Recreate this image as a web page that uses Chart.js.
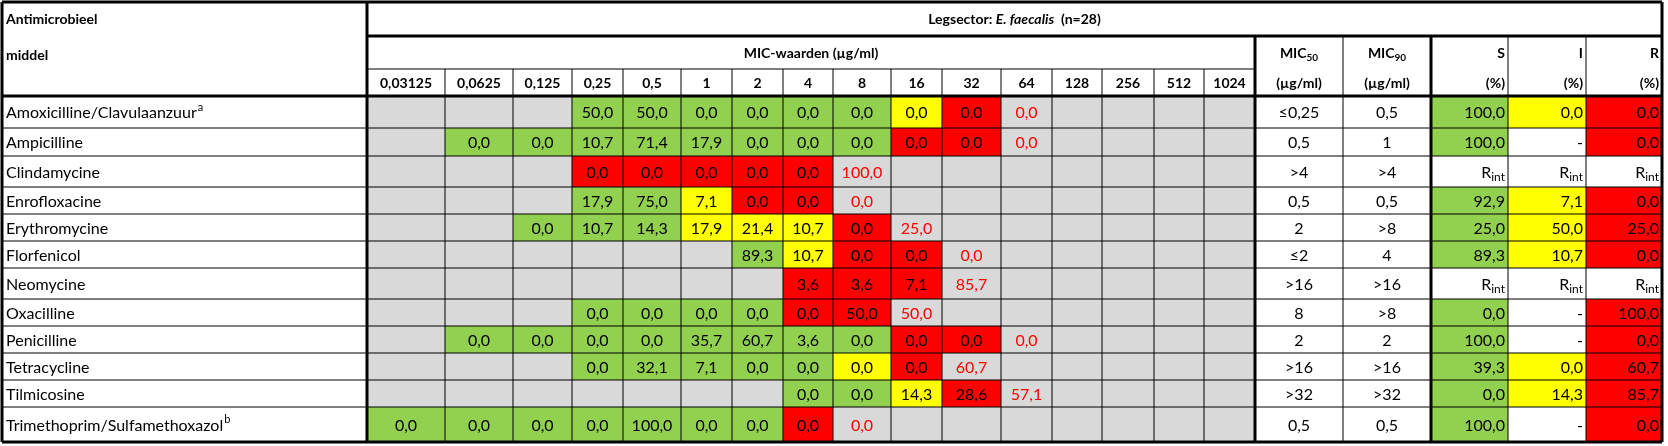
<!DOCTYPE html>
<html><head><meta charset="utf-8">
<script src="https://cdn.jsdelivr.net/npm/chart.js@4/dist/chart.umd.min.js"></script>
<style>html,body{margin:0;padding:0;background:#fff}#w{width:1668px;height:446px}</style>
</head><body><div id="w"><canvas id="c"></canvas></div>
<script>
// ---- data ----
const agents = ["Amoxicilline/Clavulaanzuur","Ampicilline","Clindamycine","Enrofloxacine","Erythromycine","Florfenicol","Neomycine","Oxacilline","Penicilline","Tetracycline","Tilmicosine","Trimethoprim/Sulfamethoxazol"];
const agentSup = ["a","","","","","","","","","","","b"];
const micLabels = ["0,03125","0,0625","0,125","0,25","0,5","1","2","4","8","16","32","64","128","256","512","1024"];
const micValues = [
 [null,null,null,"50,0","50,0","0,0","0,0","0,0","0,0","0,0","0,0","0,0",null,null,null,null],
 [null,"0,0","0,0","10,7","71,4","17,9","0,0","0,0","0,0","0,0","0,0","0,0",null,null,null,null],
 [null,null,null,"0,0","0,0","0,0","0,0","0,0","100,0",null,null,null,null,null,null,null],
 [null,null,null,"17,9","75,0","7,1","0,0","0,0","0,0",null,null,null,null,null,null,null],
 [null,null,"0,0","10,7","14,3","17,9","21,4","10,7","0,0","25,0",null,null,null,null,null,null],
 [null,null,null,null,null,null,"89,3","10,7","0,0","0,0","0,0",null,null,null,null,null],
 [null,null,null,null,null,null,null,"3,6","3,6","7,1","85,7",null,null,null,null,null],
 [null,null,null,"0,0","0,0","0,0","0,0","0,0","50,0","50,0",null,null,null,null,null,null],
 [null,"0,0","0,0","0,0","0,0","35,7","60,7","3,6","0,0","0,0","0,0","0,0",null,null,null,null],
 [null,null,null,"0,0","32,1","7,1","0,0","0,0","0,0","0,0","60,7",null,null,null,null,null],
 [null,null,null,null,null,null,null,"0,0","0,0","14,3","28,6","57,1",null,null,null,null],
 ["0,0","0,0","0,0","0,0","100,0","0,0","0,0","0,0","0,0",null,null,null,null,null,null,null]
];
// g=susceptible, y=intermediate, r=resistant, t=above range, -=not tested
const micCodes = ["---ggggggyrt----","-ggggggggrrt----","---rrrrrt-------","---ggyrrt-------","--gggyyyrt------","------gyrrt-----","-------rrrt-----","---ggggrrt------","-ggggggggrrt----","---gggggyrt-----","-------ggyrt----","gggggggrt-------"];
const mic50 = ["≤0,25","0,5",">4","0,5","2","≤2",">16","8","2",">16",">32","0,5"];
const mic90 = ["0,5","1",">4","0,5",">8","4",">16",">8","2",">16",">32","0,5"];
const pctS = ["100,0","100,0","Rint","92,9","25,0","89,3","Rint","0,0","100,0","39,3","0,0","100,0"];
const pctI = ["0,0","-","Rint","7,1","50,0","10,7","Rint","-","-","0,0","14,3","-"];
const pctR = ["0,0","0,0","Rint","0,0","25,0","0,0","Rint","100,0","0,0","60,7","85,7","0,0"];
const title = {pre:"Legsector: ", it:"E. faecalis", post:"  (n=28)"};

// ---- layout (styles) ----
const colEdges = [2,367,445,513,572,623,681,732,783,833,891,942,1001,1052,1102,1154,1204,1255,1343,1431,1508,1586,1662];
const hdrEdges = [2,36,69,96];
const rowEdges = [96,128,156,187,214,241,268,299,326,353,380,407,442];
const COL = {g:"#92D050",y:"#FFFF00",r:"#FF0000",grey:"#D9D9D9"};
const FONT = "Lato, 'Open Sans', sans-serif";

const tablePlugin = {
 id:"table",
 afterDraw(chart){
  const ctx = chart.ctx, X = v=>chart.scales.x.getPixelForValue(v), Y = v=>chart.scales.y.getPixelForValue(v);
  const rect=(x0,y0,x1,y1,c)=>{ctx.fillStyle=c;ctx.fillRect(X(x0),Y(y0),X(x1)-X(x0),Y(y1)-Y(y0));};
  const line=(x0,y0,x1,y1,w)=>{ctx.beginPath();ctx.lineWidth=w;ctx.strokeStyle="#000";ctx.moveTo(X(x0),Y(y0));ctx.lineTo(X(x1),Y(y1));ctx.stroke();};
  const font=(s,b,i)=>`${i?"italic ":""}${b?"bold ":""}${s}px ${FONT}`;
  const txt=(t,x,y,align,color,f)=>{ctx.font=f||font(16);ctx.fillStyle=color||"#000";ctx.textAlign=align;ctx.textBaseline="middle";ctx.fillText(t,X(x),Y(y));};
  const cellText=(t,c0,c1,r0,r1,align,color,bold)=>{
   const ym=(r0+r1)/2+1; let x = align==="left"?c0+4:align==="right"?c1-3:(c0+c1)/2;
   if(t==="Rint"){ctx.font=font(16,bold);const w1=ctx.measureText("R").width;ctx.font=font(12);const w2=ctx.measureText("int").width;
     const xr=X(x); ctx.fillStyle="#000";ctx.textBaseline="middle";ctx.textAlign="left";
     ctx.font=font(16);ctx.fillText("R",xr-w1-w2,Y(ym));ctx.font=font(12);ctx.fillText("int",xr-w2,Y(ym)+5);return;}
   txt(t,x,ym,align,color,font(16,bold));
  };
  const L=colEdges.length;
  // body cells
  agents.forEach((a,r)=>{
   const y0=rowEdges[r],y1=rowEdges[r+1];
   for(let k=0;k<16;k++){const cd=micCodes[r][k];const bg=(cd==="g"||cd==="y"||cd==="r")?COL[cd]:COL.grey;rect(colEdges[k+1],y0,colEdges[k+2],y1,bg);
     if(micValues[r][k]!==null) cellText(micValues[r][k],colEdges[k+1],colEdges[k+2],y0,y1,"center",cd==="t"?"#FF0000":"#000");}
   const pc=[[pctS[r],"g"],[pctI[r],"y"],[pctR[r],"r"]];
   pc.forEach(([v,c],j)=>{const c0=colEdges[19+j],c1=colEdges[20+j];if(v!=="-"&&v!=="Rint")rect(c0,y0,c1,y1,COL[c]);cellText(v,c0,c1,y0,y1,"right");});
   cellText(mic50[r],colEdges[17],colEdges[18],y0,y1,"center");
   cellText(mic90[r],colEdges[18],colEdges[19],y0,y1,"center");
   ctx.font=font(16);ctx.textAlign="left";ctx.textBaseline="middle";ctx.fillStyle="#000";
   const nx=X(colEdges[0]+4), ny=Y((y0+y1)/2+1);ctx.fillText(a,nx,ny);
   if(agentSup[r]){const w=ctx.measureText(a).width;ctx.font=font(11);ctx.fillText(agentSup[r],nx+w+1,ny-6);}
  });
  // header text
  txt("Antimicrobieel",colEdges[0]+4,19,"left","#000",font(14,true));
  txt("middel",colEdges[0]+4,55,"left","#000",font(14,true));
  {ctx.textBaseline="middle";const f1=font(14,true),f2=font(14,true,true);ctx.font=f1;const w1=ctx.measureText(title.pre).width,w3=ctx.measureText(title.post).width;ctx.font=f2;const w2=ctx.measureText(title.it).width;
   const cx=X((colEdges[1]+colEdges[L-1])/2),sx=cx-(w1+w2+w3)/2,yy=Y(19);ctx.fillStyle="#000";ctx.textAlign="left";
   ctx.font=f1;ctx.fillText(title.pre,sx,yy);ctx.font=f2;ctx.fillText(title.it,sx+w1,yy);ctx.font=f1;ctx.fillText(title.post,sx+w1+w2,yy);}
  txt("MIC-waarden (µg/ml)",(colEdges[1]+colEdges[17])/2,53,"center","#000",font(14,true));
  micLabels.forEach((m,k)=>txt(m,(colEdges[k+1]+colEdges[k+2])/2,83,"center","#000",font(14,true)));
  [["50",17],["90",18]].forEach(([s,c])=>{const cx=X((colEdges[c]+colEdges[c+1])/2);ctx.font=font(14,true);const w1=ctx.measureText("MIC").width;ctx.font=font(10,true);const w2=ctx.measureText(s).width;
   ctx.textAlign="left";ctx.fillStyle="#000";ctx.font=font(14,true);ctx.fillText("MIC",cx-(w1+w2)/2,Y(53));ctx.font=font(10,true);ctx.fillText(s,cx-(w1+w2)/2+w1,Y(58));
   txt("(µg/ml)",(colEdges[c]+colEdges[c+1])/2,83,"center","#000",font(14,true));});
  ["S","I","R"].forEach((s,j)=>{txt(s,colEdges[20+j]-3,53,"right","#000",font(14,true));txt("(%)",colEdges[20+j]-3,83,"right","#000",font(14,true));});
  // grid lines thin
  for(let r=1;r<rowEdges.length-1;r++) line(colEdges[0],rowEdges[r],colEdges[L-1],rowEdges[r],1);
  line(colEdges[1],hdrEdges[2],colEdges[17],hdrEdges[2],1);
  for(let k=2;k<L-1;k++){ if(k===17||k===19) continue; const top=(k<17)?hdrEdges[2]:hdrEdges[1]; line(colEdges[k],top,colEdges[k],rowEdges[rowEdges.length-1],1);}
  // thick lines
  line(colEdges[0],hdrEdges[0],colEdges[L-1],hdrEdges[0],3);
  line(colEdges[0],rowEdges[rowEdges.length-1],colEdges[L-1],rowEdges[rowEdges.length-1],3);
  line(colEdges[0],hdrEdges[3],colEdges[L-1],hdrEdges[3],3);
  line(colEdges[1],hdrEdges[1],colEdges[L-1],hdrEdges[1],3);
  line(colEdges[0],hdrEdges[0],colEdges[0],rowEdges[rowEdges.length-1],3);
  line(colEdges[L-1],hdrEdges[0],colEdges[L-1],rowEdges[rowEdges.length-1],3);
  line(colEdges[1],hdrEdges[0],colEdges[1],rowEdges[rowEdges.length-1],3);
  line(colEdges[17],hdrEdges[1],colEdges[17],rowEdges[rowEdges.length-1],3);
  line(colEdges[19],hdrEdges[1],colEdges[19],rowEdges[rowEdges.length-1],3);
 }
};

new Chart(document.getElementById("c"),{
 type:"scatter",
 data:{datasets:[{data:[],pointRadius:0}]},
 options:{responsive:true,maintainAspectRatio:false,animation:false,
  layout:{padding:0},
  plugins:{legend:{display:false},tooltip:{enabled:false}},
  scales:{x:{type:"linear",min:0,max:1668,display:false},y:{type:"linear",min:0,max:446,reverse:true,display:false}}},
 plugins:[tablePlugin]
});
</script></body></html>
